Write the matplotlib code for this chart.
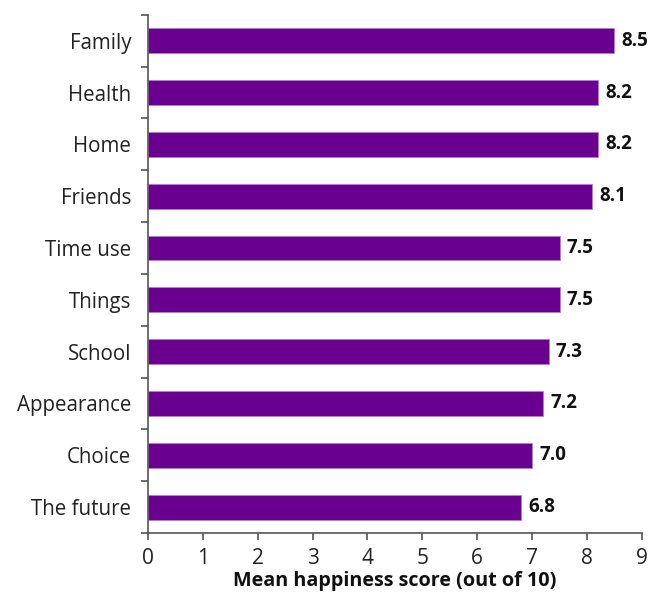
import numpy as np
import matplotlib.pyplot as plt
from matplotlib.ticker import FixedLocator

# Mean happiness score by aspect of life (top to bottom as in the chart)
categories = ["Family", "Health", "Home", "Friends", "Time use",
              "Things", "School", "Appearance", "Choice", "The future"]
scores = [8.5, 8.2, 8.2, 8.1, 7.5, 7.5, 7.3, 7.2, 7.0, 6.8]
value_labels = ["8.5", "8.2", "8.2", "8.1", "7.5", "7.5", "7.3", "7.2", "7.0", "6.8"]
x_ticks = [0, 1, 2, 3, 4, 5, 6, 7, 8, 9]

purple = "#6a008f"
axis_grey = "#555555"

plt.rcParams['font.family'] = ['Open Sans', 'DejaVu Sans']

fig = plt.figure(figsize=(6.49, 5.92), dpi=100)
ax = fig.add_axes([0.228, 0.0997, 0.761, 0.8753])

y = np.arange(len(categories))
ax.barh(y, scores, height=0.48, color=purple, edgecolor="#b27fcc", linewidth=0.6)

for yi, v, lab in zip(y, scores, value_labels):
    ax.text(v + 0.13, yi, lab, va="center", ha="left", fontsize=13.5,
            fontweight="bold", color="#111111", clip_on=False)

ax.set_xlim(0, 9)
ax.set_ylim(len(categories) - 0.5, -0.5)
ax.set_xticks(x_ticks)
ax.set_yticks(y)
ax.set_yticklabels(categories, fontsize=14.8, color="#222222")
ax.yaxis.set_minor_locator(FixedLocator(np.arange(-0.5, len(categories), 1.0)))
ax.tick_params(axis="y", which="major", length=0, pad=12)
ax.tick_params(axis="y", which="minor", length=5, width=1.2, color=axis_grey, direction="out")
ax.tick_params(axis="x", which="major", length=5, width=1.2, color=axis_grey,
               labelsize=15, labelcolor="#222222", pad=6)

for side in ["top", "right"]:
    ax.spines[side].set_visible(False)
for side in ["left", "bottom"]:
    ax.spines[side].set_color(axis_grey)
    ax.spines[side].set_linewidth(1.2)

ax.set_xlabel("Mean happiness score (out of 10)", fontsize=14.2, fontweight="bold",
              color="#111111", labelpad=1)

fig.savefig("out.png", dpi=100)
